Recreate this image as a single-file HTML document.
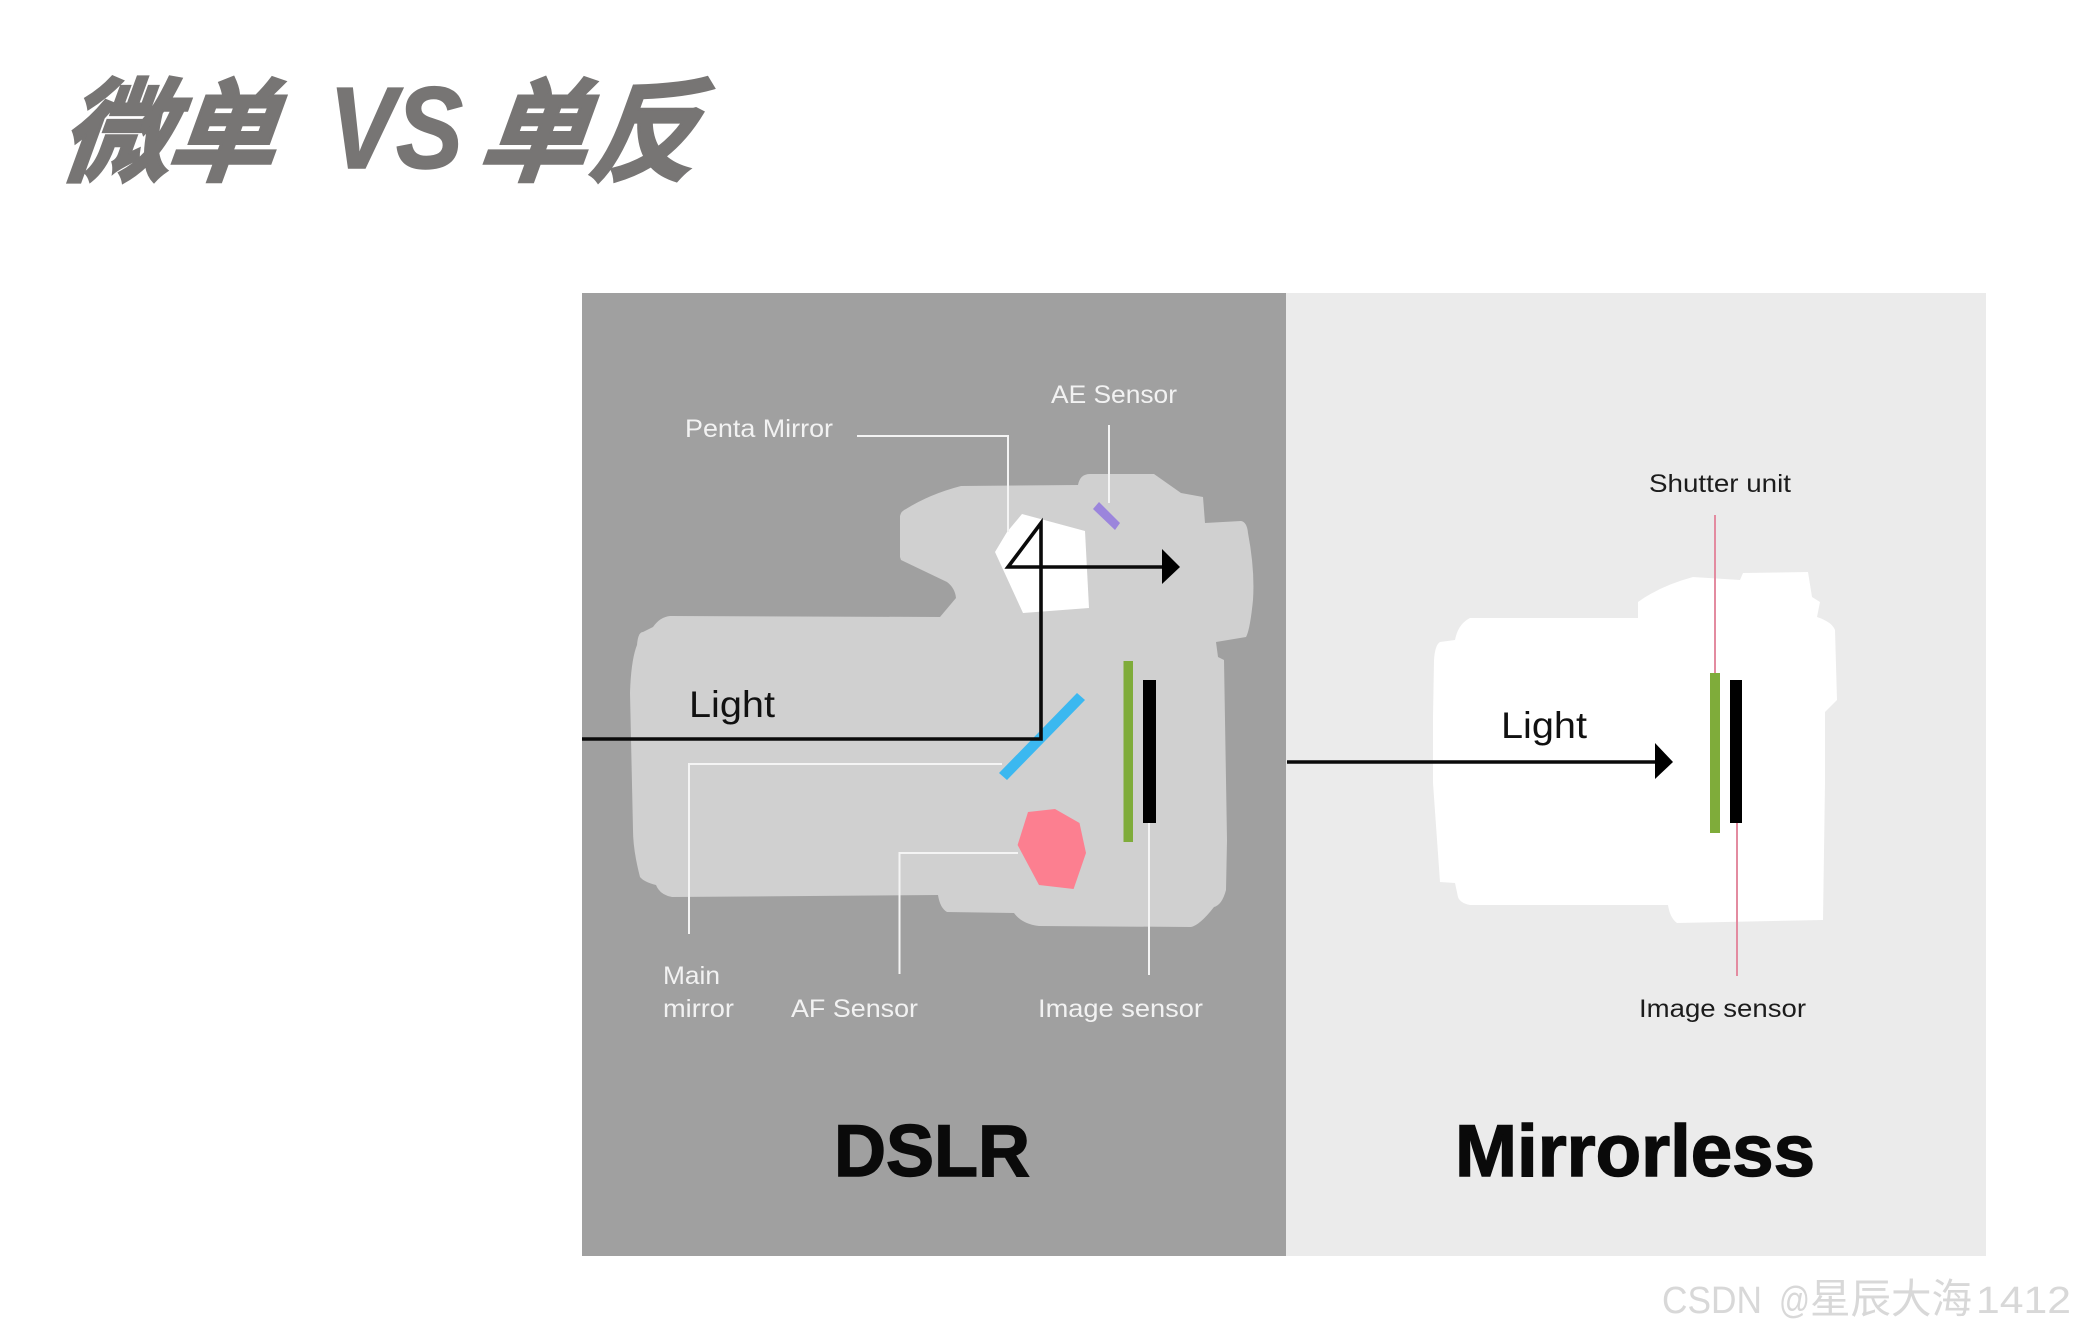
<!DOCTYPE html>
<html><head><meta charset="utf-8"><style>
html,body{margin:0;padding:0;background:#fff;width:2077px;height:1333px;overflow:hidden}
svg{display:block}
text{font-family:"Liberation Sans","Noto Sans CJK SC",sans-serif}
</style></head><body>
<svg width="2077" height="1333" viewBox="0 0 2077 1333" xmlns="http://www.w3.org/2000/svg">
<rect width="2077" height="1333" fill="#fff"/>
<!-- Title -->
<g fill="#777574" stroke="#777574" stroke-width="3" font-weight="700" style='font-family:"Noto Sans CJK SC",sans-serif' font-size="112">
<text transform="translate(57,172) skewX(-20)" x="0" y="0" textLength="111" lengthAdjust="spacingAndGlyphs">微</text>
<text transform="translate(164,172) skewX(-20)" x="0" y="0" textLength="108" lengthAdjust="spacingAndGlyphs">单</text>
<text transform="translate(476,172) skewX(-20)" x="0" y="0" textLength="108" lengthAdjust="spacingAndGlyphs">单</text>
<text transform="translate(587,172) skewX(-20)" x="0" y="0" textLength="106" lengthAdjust="spacingAndGlyphs">反</text>
</g>
<text x="329" y="168" font-size="116" font-weight="700" font-style="italic" fill="#777574" stroke="#777574" stroke-width="1.5" textLength="134" lengthAdjust="spacingAndGlyphs">VS</text>
<!-- Panels -->
<rect x="582" y="293" width="704" height="963" fill="#a0a0a0"/>
<rect x="1286" y="293" width="700" height="963" fill="#ebebeb"/>
<!-- DSLR camera -->
<path fill="#d0d0d0" d="M900 557 L900 516 Q901 511 906 509 Q930 494 961 486 L1078 485 Q1080 474 1090 474 L1154 474 L1181 493 L1203 497 L1205 523 L1241 521 Q1247 522 1248 533 Q1255 570 1253 600 Q1250 630 1246 637 L1216 642 L1218 657 L1224 660 L1227 840 L1226 890 Q1222 905 1214 907 Q1200 925 1191 927 L1039 926 Q1022 924 1014 913 L947 912 Q940 908 938 895 L672 897 Q660 895 656 885 Q644 882 640 877 Q633 850 633 830 L630 693 Q631 660 637 645 Q638 632 643 632 L653 627 Q660 617 670 616 L940 617 L956 598 Q955 588 947 582 L901 560 Z"/>
<polygon fill="#fff" points="1022,514 1085,531 1089,608 1023,613 995,552 1007,532"/>
<!-- white leaders -->
<g fill="none" stroke="#f4f4f4" stroke-width="2">
<polyline points="857,436 1008,436 1008,532"/>
<line x1="1109" y1="425" x2="1109" y2="503"/>
<polyline points="1002,764 689,764 689,934"/>
<polyline points="1018,853 899.5,853 899.5,974"/>
<line x1="1149" y1="823" x2="1149" y2="975"/>
</g>
<polygon fill="#9b85dc" points="1099,502 1120,523 1115,530 1093,509"/>
<polygon fill="#3bb8f0" points="1077,693 1085,700 1007,780 999,773"/>
<polygon fill="#fc7f90" points="1028,812 1055,809 1079.5,823 1086,853 1073.6,889 1039,885 1017.6,845"/>
<rect x="1123.5" y="661" width="9.5" height="181" fill="#7fac3a"/>
<rect x="1143" y="680" width="13" height="143" fill="#000"/>
<!-- Black light path -->
<polyline fill="none" stroke="#0a0a0a" stroke-width="3.6" stroke-linejoin="miter" points="582,739 1041,739 1041,523 1008,567 1165,567"/>
<polygon fill="#000" points="1162,549 1180,567 1162,584"/>
<!-- DSLR labels -->
<g fill="#f2f2f2" font-size="25">
<text x="685" y="437" textLength="148" lengthAdjust="spacingAndGlyphs">Penta Mirror</text>
<text x="1051" y="403" textLength="126" lengthAdjust="spacingAndGlyphs">AE Sensor</text>
<text x="663" y="984" textLength="57" lengthAdjust="spacingAndGlyphs">Main</text>
<text x="663" y="1017" textLength="71" lengthAdjust="spacingAndGlyphs">mirror</text>
<text x="791" y="1017" textLength="127" lengthAdjust="spacingAndGlyphs">AF Sensor</text>
<text x="1038" y="1017" textLength="165" lengthAdjust="spacingAndGlyphs">Image sensor</text>
</g>
<text x="689" y="717" font-size="37" fill="#111" textLength="86" lengthAdjust="spacingAndGlyphs">Light</text>
<text x="834" y="1176" font-size="73" font-weight="700" fill="#0a0a0a" stroke="#0a0a0a" stroke-width="1.4" textLength="196" lengthAdjust="spacingAndGlyphs">DSLR</text>
<!-- Mirrorless camera -->
<path fill="#fff" d="M1434 660 Q1435 645 1440 642 L1455 640 Q1458 624 1470 618 L1638 618 L1638 602 Q1660 586 1693 577 L1740 580 L1743 573 L1808 572 L1812 597 L1820 602 L1817 617 Q1832 622 1835 630 L1837 700 L1825 712 L1825 783 L1823 920 L1677 923 Q1670 918 1668 905 L1470 905 Q1460 903 1458 897 L1455 883 L1440 882 L1433 783 L1433 717 Z"/>
<line x1="1715" y1="515" x2="1715" y2="673" stroke="#e38ba0" stroke-width="2"/>
<line x1="1737" y1="823" x2="1737" y2="976" stroke="#e38ba0" stroke-width="2"/>
<rect x="1710" y="673" width="10" height="160" fill="#7fac3a"/>
<rect x="1730" y="680" width="12" height="143" fill="#000"/>
<line x1="1287" y1="762" x2="1658" y2="762" stroke="#0a0a0a" stroke-width="3.6"/>
<polygon fill="#000" points="1655,743 1673,762 1655,779"/>
<g fill="#1c1c1c" font-size="25">
<text x="1649" y="492" textLength="142" lengthAdjust="spacingAndGlyphs">Shutter unit</text>
<text x="1639" y="1017" textLength="167" lengthAdjust="spacingAndGlyphs">Image sensor</text>
</g>
<text x="1501" y="738" font-size="37" fill="#111" textLength="86" lengthAdjust="spacingAndGlyphs">Light</text>
<text x="1455" y="1176" font-size="73" font-weight="700" fill="#0a0a0a" stroke="#0a0a0a" stroke-width="1.4" textLength="360" lengthAdjust="spacingAndGlyphs">Mirrorless</text>
<!-- Watermark -->
<g fill="#d8d8d8" style='font-family:"Liberation Sans","WenQuanYi Zen Hei","Noto Sans CJK SC",sans-serif'>
<text x="1662" y="1313" font-size="38" textLength="100" lengthAdjust="spacingAndGlyphs">CSDN</text>
<text x="1779" y="1313" font-size="38" textLength="31" lengthAdjust="spacingAndGlyphs">@</text>
<text x="1810" y="1313" font-size="41" textLength="162" lengthAdjust="spacingAndGlyphs" style='font-family:"Noto Sans CJK SC",sans-serif'>星辰大海</text>
<text x="1976" y="1313" font-size="38" textLength="95" lengthAdjust="spacingAndGlyphs">1412</text>
</g>
</svg>
</body></html>
